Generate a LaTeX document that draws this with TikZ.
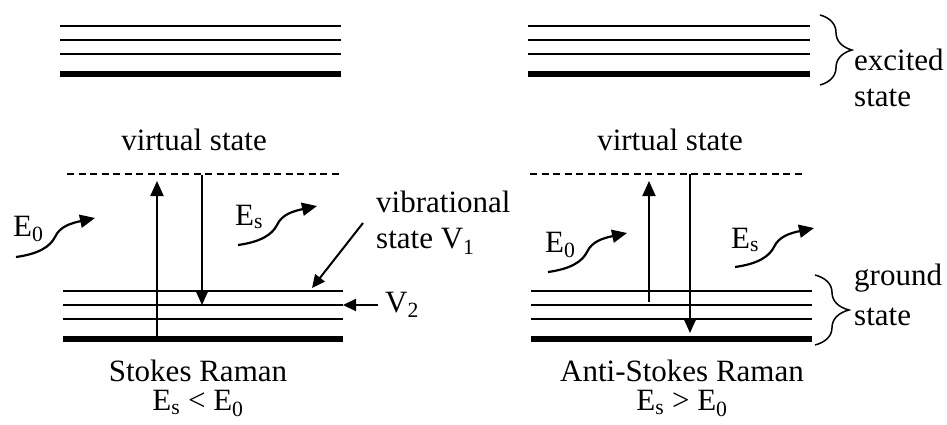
\documentclass[tikz,border=0pt]{standalone}
\usepackage{fontspec}
\setmainfont{Liberation Serif}
\usetikzlibrary{arrows.meta,decorations.pathreplacing,calc}

\begin{document}
\begin{tikzpicture}[x=1pt,y=-1pt,
  level/.style={line width=1.4pt},
  baselevel/.style={line width=6pt},
  virtual/.style={line width=1.3pt, dash pattern=on 7pt off 4.5pt},
  transition/.style={line width=2pt, -{Triangle[length=15pt,width=13pt]}},
  pointer/.style={line width=2pt, -{Triangle[length=13pt,width=12pt]}},
  txt/.style={inner sep=0pt, font=\fontsize{31}{36}\selectfont},
  twoline/.style={inner sep=0pt, align=#1},
  statebrace/.style={decorate, decoration={brace, amplitude=#1}, line width=1.5pt},
  photon/.pic={\draw[line width=2.2pt, -{Triangle[length=15pt,width=13pt]}]
      (0,0) .. controls (22,-3) and (34,-10) .. (39,-20)
            .. controls (44,-31) and (56,-34) .. (79,-39);}
]
\useasboundingbox (0,0) rectangle (947,425);

% excited-state manifolds
\foreach \y in {26,40,54} {
  \draw[level] (60,\y) -- (341,\y);
  \draw[level] (528,\y) -- (810,\y);
}
\draw[baselevel] (60,74) -- (341,74);
\draw[baselevel] (528,74) -- (810,74);

% virtual levels
\draw[virtual] (67,174) -- (342,174);
\draw[virtual] (530,174) -- (805,174);

% ground-state vibrational manifolds
\foreach \y in {291,305,319} {
  \draw[level] (63,\y) -- (343,\y);
  \draw[level] (531,\y) -- (812,\y);
}
\draw[baselevel] (63,339) -- (343,339);
\draw[baselevel] (531,339) -- (812,339);

% braces
\draw[statebrace=32pt] (820,15) -- (820,85);
\draw[statebrace=34pt] (815,275) -- (815,345);

% labels
\node[txt, anchor=base] (vsL) at (194,150) {virtual state};
\node[txt, anchor=base] (vsR) at (670,150) {virtual state};
\node[twoline=left, font=\fontsize{31}{36}\selectfont, anchor=north west]
  (exc) at (854,49) {excited\\state};
\node[twoline=left, font=\fontsize{31}{40}\selectfont, anchor=north west]
  (gnd) at (854,264) {ground\\state};
\node[txt, anchor=base west] (e0L) at (13,236) {E\textsubscript{0}};
\node[txt, anchor=base west] (esL) at (235,225) {E\textsubscript{s}};
\node[txt, anchor=base west] (e0R) at (545,252) {E\textsubscript{0}};
\node[txt, anchor=base west] (esR) at (731,248) {E\textsubscript{s}};
\node[twoline=left, font=\fontsize{31}{36}\selectfont, anchor=north west]
  (vib) at (376,191) {vibrational\\state V\textsubscript{1}};
\node[txt, anchor=base west] (v2) at (385,312) {V\textsubscript{2}};
\node[twoline=center, font=\fontsize{31}{29}\selectfont, anchor=north]
  (stokes) at (198,360) {Stokes Raman\\E\textsubscript{s} < E\textsubscript{0}};
\node[twoline=center, font=\fontsize{31}{29}\selectfont, anchor=north]
  (astokes) at (682,360) {Anti-Stokes Raman\\E\textsubscript{s} > E\textsubscript{0}};

% transition end points
\coordinate (upLa) at (157,339);
\coordinate (upLb) at (157,181);
\coordinate (dnLa) at (202,175);
\coordinate (dnLb) at (202,305);
\coordinate (upRa) at (649,302);
\coordinate (upRb) at (649,181);
\coordinate (dnRa) at (690,174);
\coordinate (dnRb) at (690,333);

\draw[transition] (upLa) -- (upLb);
\draw[transition] (dnLa) -- (dnLb);
\draw[transition] (upRa) -- (upRb);
\draw[transition] (dnRa) -- (dnRb);

% pointers to the vibrational levels
\coordinate (vibtail) at (363,223);
\coordinate (vibhead) at (312,288);
\coordinate (v2tail) at (378,305);
\coordinate (v2head) at (343,305);
\draw[pointer] (vibtail) -- (vibhead);
\draw[pointer] (v2tail) -- (v2head);

% photons
\pic at (16,257) {photon};
\pic at (238,245) {photon};
\pic at (548,272) {photon};
\pic at (735,267) {photon};
\end{tikzpicture}
\end{document}
